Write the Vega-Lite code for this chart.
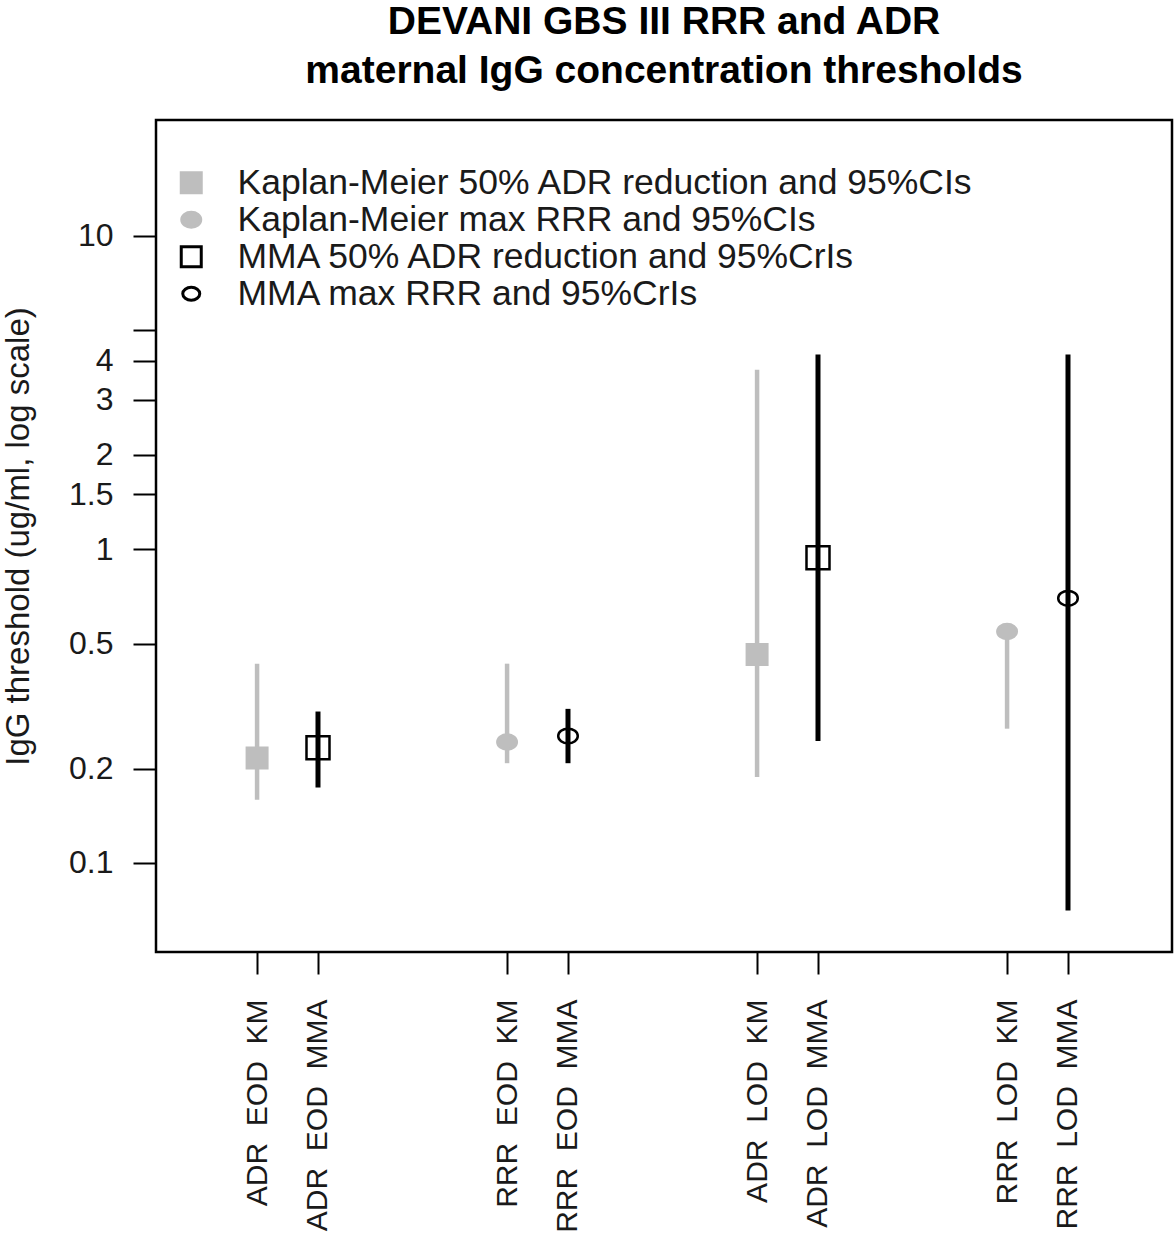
{
  "$schema": "https://vega.github.io/schema/vega-lite/v6.json",
  "autosize": "none",
  "width": 1016,
  "height": 832,
  "padding": {"left": 156, "top": 120, "right": 3, "bottom": 302},
  "background": "white",
  "title": {
    "text": ["DEVANI GBS III RRR and ADR", "maternal IgG concentration thresholds"],
    "font": "Liberation Sans",
    "fontSize": 39,
    "fontWeight": "bold",
    "color": "black",
    "lineHeight": 49,
    "anchor": "middle",
    "offset": 29
  },
  "config": {
    "view": {"stroke": "black", "strokeWidth": 2.5},
    "axis": {"grid": false, "domain": false, "tickColor": "black", "tickWidth": 2, "labelColor": "#1a1a1a", "labelFont": "Liberation Sans", "titleFont": "Liberation Sans", "titleColor": "#1a1a1a", "titleFontWeight": "normal"},
    "legend": {
      "title": null,
      "orient": "none",
      "legendX": 17.5,
      "legendY": 45,
      "padding": 0,
      "rowPadding": -5,
      "labelFont": "Liberation Sans",
      "labelFontSize": 35.5,
      "labelColor": "#1a1a1a",
      "labelLimit": 1000,
      "labelOffset": 28.5,
      "symbolSize": 400,
      "symbolStrokeWidth": 3
    }
  },
  "data": {
    "values": [
      {"label": "ADR EOD KM", "method": "KM", "series": "Kaplan-Meier 50% ADR reduction and 95%CIs", "est": 0.216, "lo": 0.159, "hi": 0.432},
      {"label": "RRR EOD KM", "method": "KM", "series": "Kaplan-Meier max RRR and 95%CIs", "est": 0.243, "lo": 0.208, "hi": 0.432},
      {"label": "ADR LOD KM", "method": "KM", "series": "Kaplan-Meier 50% ADR reduction and 95%CIs", "est": 0.462, "lo": 0.188, "hi": 3.74},
      {"label": "RRR LOD KM", "method": "KM", "series": "Kaplan-Meier max RRR and 95%CIs", "est": 0.547, "lo": 0.268, "hi": 0.547},
      {"label": "ADR EOD MMA", "method": "MMA", "series": "MMA 50% ADR reduction and 95%CrIs", "est": 0.233, "lo": 0.174, "hi": 0.304},
      {"label": "RRR EOD MMA", "method": "MMA", "series": "MMA max RRR and 95%CrIs", "est": 0.254, "lo": 0.208, "hi": 0.31},
      {"label": "ADR LOD MMA", "method": "MMA", "series": "MMA 50% ADR reduction and 95%CrIs", "est": 0.94, "lo": 0.245, "hi": 4.18},
      {"label": "RRR LOD MMA", "method": "MMA", "series": "MMA max RRR and 95%CrIs", "est": 0.698, "lo": 0.0705, "hi": 4.18}
    ]
  },
  "encoding": {
    "y": {
      "field": "est",
      "type": "quantitative",
      "scale": {"type": "log", "domain": [0.052, 23.4], "nice": false},
      "axis": {
        "title": "IgG threshold (ug/ml, log scale)",
        "titleFontSize": 33,
        "titlePadding": 33,
        "values": [0.1, 0.2, 0.5, 1, 1.5, 2, 3, 4, 5, 10],
        "labelExpr": "datum.value == 5 ? '' : '' + datum.value",
        "labelFontSize": 32,
        "tickSize": 23,
        "labelPadding": 20,
        "labelBaseline": "middle"
      }
    }
  },
  "layer": [
    {
      "transform": [{"filter": "datum.method == 'KM'"}],
      "encoding": {
        "x": {
          "field": "label",
          "type": "nominal",
          "sort": null,
          "scale": {"type": "point", "domain": ["ADR EOD KM", "RRR EOD KM", "ADR LOD KM", "RRR LOD KM"], "padding": 0.532, "align": 0.38},
          "axis": {"title": null, "orient": "bottom", "labelAngle": 270, "labelAlign": "right", "labelBaseline": "middle", "labelFontSize": 30, "labelPadding": 25, "tickSize": 22, "labelLimit": 400, "labelExpr": "replace(datum.label, regexp(' ', 'g'), '\u00a0\u00a0')"}
        }
      },
      "layer": [
        {
          "mark": {"type": "rule", "color": "#bebebe", "strokeWidth": 4.5},
          "encoding": {"y": {"field": "lo", "type": "quantitative"}, "y2": {"field": "hi"}}
        },
        {
          "mark": {"type": "point", "strokeWidth": 2.5, "opacity": 1},
          "encoding": {
            "size": {"value": 420},
            "shape": {
              "field": "series",
              "type": "nominal",
              "scale": {
                "domain": ["Kaplan-Meier 50% ADR reduction and 95%CIs", "Kaplan-Meier max RRR and 95%CIs", "MMA 50% ADR reduction and 95%CrIs", "MMA max RRR and 95%CrIs"],
                "range": ["square", "M0.95,0A0.95,0.74 0 1,1 -0.95,0A0.95,0.74 0 1,1 0.95,0Z", "square", "M0.85,0A0.85,0.64 0 1,1 -0.85,0A0.85,0.64 0 1,1 0.85,0Z"]
              }
            },
            "fill": {
              "field": "series",
              "type": "nominal",
              "scale": {
                "domain": ["Kaplan-Meier 50% ADR reduction and 95%CIs", "Kaplan-Meier max RRR and 95%CIs", "MMA 50% ADR reduction and 95%CrIs", "MMA max RRR and 95%CrIs"],
                "range": ["#bebebe", "#bebebe", "transparent", "transparent"]
              }
            },
            "stroke": {
              "field": "series",
              "type": "nominal",
              "scale": {
                "domain": ["Kaplan-Meier 50% ADR reduction and 95%CIs", "Kaplan-Meier max RRR and 95%CIs", "MMA 50% ADR reduction and 95%CrIs", "MMA max RRR and 95%CrIs"],
                "range": ["#bebebe", "#bebebe", "black", "black"]
              }
            }
          }
        }
      ]
    },
    {
      "transform": [{"filter": "datum.method == 'MMA'"}],
      "encoding": {
        "x": {
          "field": "label",
          "type": "nominal",
          "sort": null,
          "scale": {"type": "point", "domain": ["ADR EOD MMA", "RRR EOD MMA", "ADR LOD MMA", "RRR LOD MMA"], "padding": 0.532, "align": 0.609},
          "axis": {"title": null, "orient": "bottom", "labelAngle": 270, "labelAlign": "right", "labelBaseline": "middle", "labelFontSize": 30, "labelPadding": 25, "tickSize": 22, "labelLimit": 400, "labelExpr": "replace(datum.label, regexp(' ', 'g'), '\u00a0\u00a0')"}
        }
      },
      "layer": [
        {
          "mark": {"type": "rule", "color": "black", "strokeWidth": 5},
          "encoding": {"y": {"field": "lo", "type": "quantitative"}, "y2": {"field": "hi"}}
        },
        {
          "mark": {"type": "point", "strokeWidth": 2.5, "opacity": 1},
          "encoding": {
            "size": {"value": 529},
            "shape": {"field": "series", "type": "nominal"},
            "fill": {"field": "series", "type": "nominal"},
            "stroke": {"field": "series", "type": "nominal"}
          }
        }
      ]
    }
  ],
  "resolve": {"scale": {"x": "independent"}, "axis": {"x": "independent"}}
}
